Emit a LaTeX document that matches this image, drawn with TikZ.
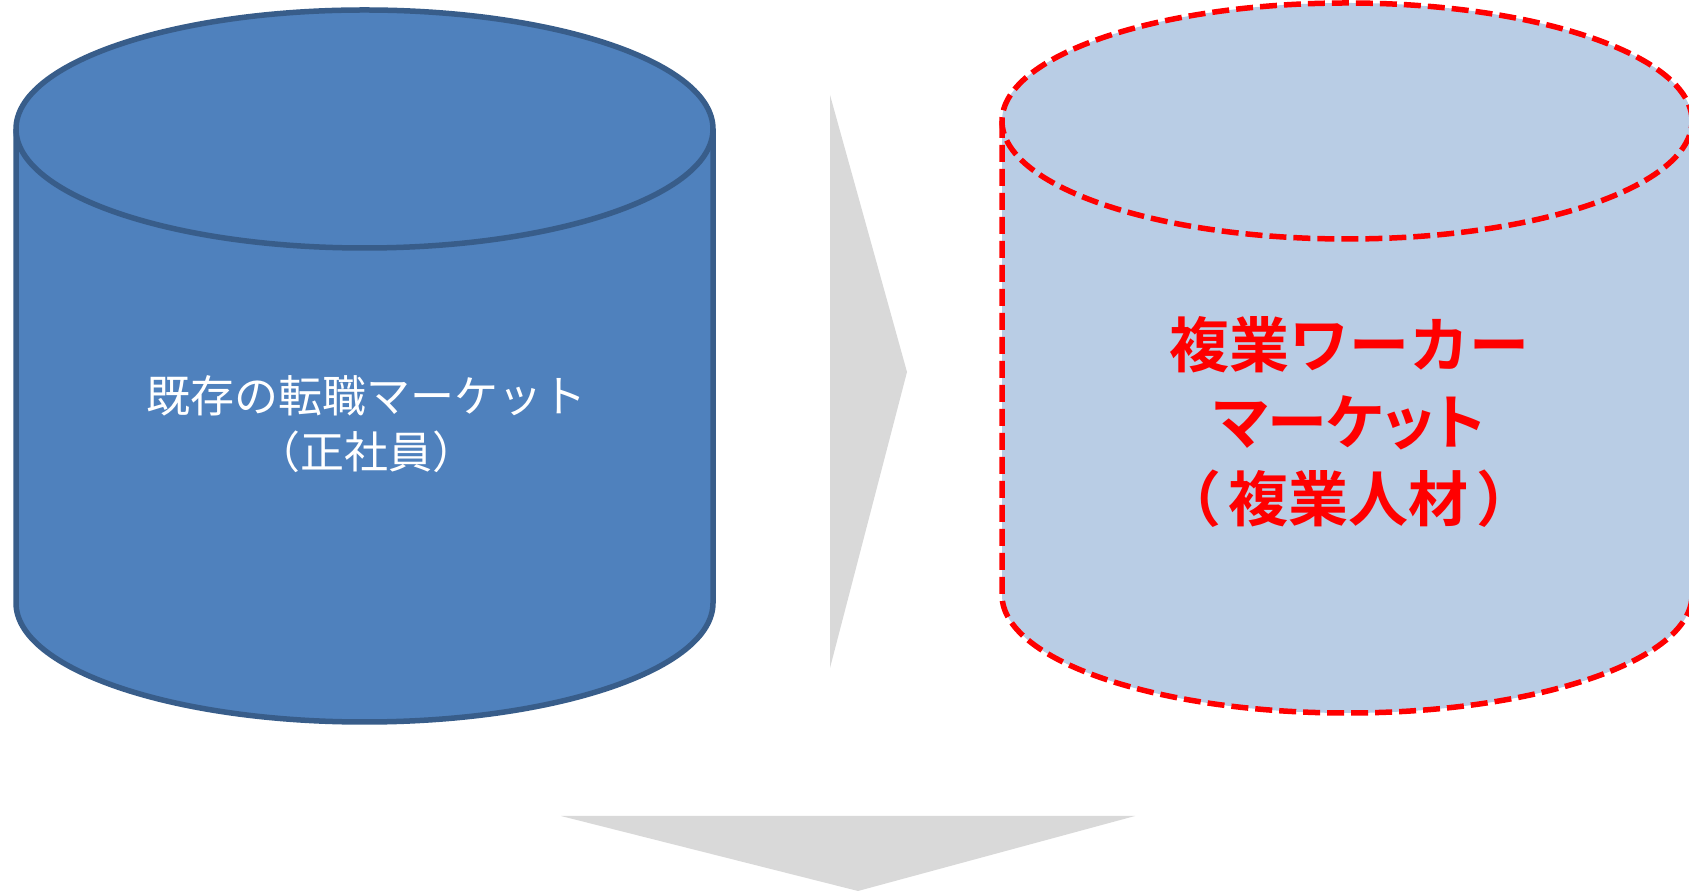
\documentclass[tikz,border=0pt]{standalone}
\usepackage{fontspec}
\newfontfamily\jp{Noto Sans CJK JP}
\newfontfamily\jpb{Noto Sans CJK JP Bold}
\newfontfamily\jpbp[RawFeature=+palt]{Noto Sans CJK JP Bold}
\definecolor{cylblue}{HTML}{4F81BD}
\definecolor{cylline}{HTML}{385D8A}
\definecolor{cyllight}{HTML}{B9CDE5}
\definecolor{arrowgray}{HTML}{D9D9D9}
\tikzset{
  oldfill/.style={fill=cylblue, draw=none},
  oldline/.style={draw=cylline, line width=5.5pt, line join=round},
  newfill/.style={fill=cyllight, draw=none},
  newline/.style={draw=red, line width=5.5pt, dash pattern=on 17pt off 7pt},
  grayarrow/.style={fill=arrowgray, draw=none},
  oldtext/.style={text=white, align=center, font=\jp\fontsize{44}{56}\selectfont},
  newtext/.style={text=red, align=center, font=\jpb\fontsize{60}{77}\selectfont},
}
\begin{document}
\begin{tikzpicture}[x=1pt,y=1pt]
\useasboundingbox (0,0) rectangle (1689,891);
% left cylinder
\path[oldfill] (16,762) -- (16,288) arc[start angle=180, end angle=360, x radius=348.5, y radius=119]
  -- (713,762) arc[start angle=0, end angle=180, x radius=348.5, y radius=119] -- cycle;
\path[oldline] (16,762) -- (16,288) arc[start angle=180, end angle=360, x radius=348.5, y radius=119] -- (713,762);
\path[oldline] (364.5,762) ellipse[x radius=348.5, y radius=119];
% right cylinder
\path[newfill] (1002,770) -- (1002,296) arc[start angle=180, end angle=360, x radius=345, y radius=118]
  -- (1692,770) arc[start angle=0, end angle=180, x radius=345, y radius=118] -- cycle;
\path[newline] (1002,770) -- (1002,296) arc[start angle=180, end angle=360, x radius=345, y radius=118] -- (1692,770);
\path[newline] (1347,770) ellipse[x radius=345, y radius=118];
% arrows
\path[grayarrow] (830,796) -- (907,519) -- (830,223) -- cycle;
\path[grayarrow] (561,75) -- (1135,75) -- (858,0) -- cycle;
% texts
\node[oldtext] (old) at (366,467) {既存の転職マーケット\\（正社員）};
\node[newtext] (new) at (1349,469) {複業ワーカー\\{\jpbp マーケット}\\{\jpbp （\hspace{10pt}複業人材\hspace{10pt}）}};
\end{tikzpicture}
\end{document}
